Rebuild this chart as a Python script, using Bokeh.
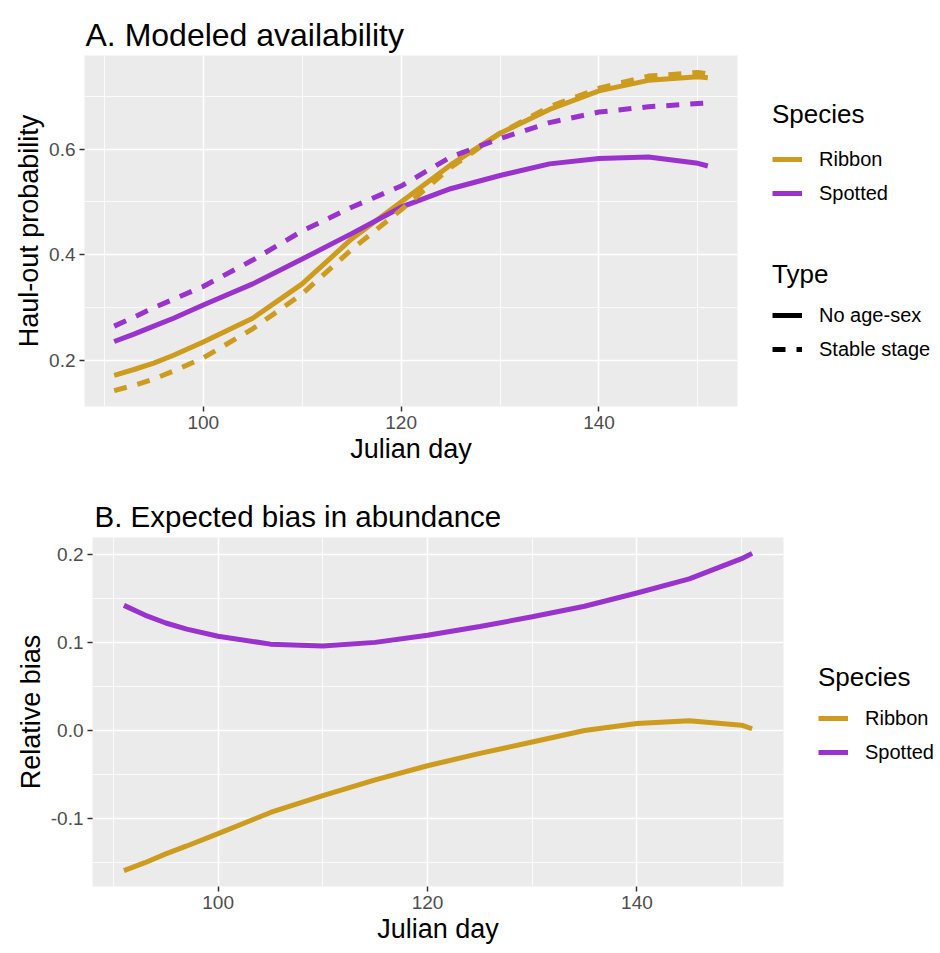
from bokeh.plotting import figure
from bokeh.layouts import row
from bokeh.models import Legend, LegendItem, FixedTicker, PrintfTickFormatter, Range1d
from bokeh.embed import file_html
from bokeh.resources import INLINE

# ---------------- data ----------------
days = [91, 93, 95, 97, 100, 105, 110, 115, 120, 125, 130, 135, 140, 145, 150, 151]

# Panel A: haul-out probability
ribbon_no_age_sex = [0.172, 0.183, 0.195, 0.210, 0.235, 0.280, 0.345, 0.430, 0.500, 0.570, 0.630, 0.675, 0.710, 0.730, 0.737, 0.735]
ribbon_stable_stage = [0.143, 0.153, 0.165, 0.180, 0.205, 0.260, 0.326, 0.410, 0.485, 0.565, 0.630, 0.680, 0.715, 0.738, 0.745, 0.742]
spotted_no_age_sex = [0.236, 0.250, 0.265, 0.280, 0.305, 0.345, 0.392, 0.440, 0.490, 0.525, 0.550, 0.572, 0.582, 0.585, 0.573, 0.568]
spotted_stable_stage = [0.265, 0.282, 0.300, 0.316, 0.340, 0.390, 0.445, 0.490, 0.530, 0.585, 0.620, 0.650, 0.670, 0.680, 0.686, 0.687]

# Panel B: relative bias
ribbon_bias = [-0.159, -0.150, -0.140, -0.131, -0.117, -0.093, -0.074, -0.056, -0.040, -0.026, -0.013, 0.000, 0.008, 0.011, 0.006, 0.002]
spotted_bias = [0.142, 0.131, 0.122, 0.115, 0.107, 0.098, 0.096, 0.100, 0.108, 0.118, 0.129, 0.141, 0.156, 0.172, 0.195, 0.201]

x_ticks = [100, 120, 140]
x_minor = [90, 110, 130, 150]
a_y_ticks = [0.2, 0.4, 0.6]
a_y_minor = [0.3, 0.5, 0.7]
b_y_ticks = [-0.1, 0.0, 0.1, 0.2]
b_y_minor = [-0.15, -0.05, 0.05, 0.15]

species = ["Ribbon", "Spotted"]
types = ["No age-sex", "Stable stage"]

# legend-key stand-in lines (kept outside the visible 0..1 range of the key panels)
key_x = [2, 3]
key_y = [2, 2]

# ---------------- style ----------------
GOLD = "#CD9B1D"
PURPLE = "#9A32CD"
FONT = "Liberation Sans"
LW = 5
DASH = "13 11"


def style(p, yt, ym, title_size, title_standoff, title_offset):
    p.background_fill_color = "#EBEBEB"
    p.border_fill_color = "white"
    p.outline_line_color = None
    p.title.text_font = FONT
    p.title.text_font_size = title_size
    p.title.text_font_style = "normal"
    p.title.text_color = "black"
    p.title.offset = title_offset
    p.title.standoff = title_standoff
    p.xaxis.ticker = FixedTicker(ticks=x_ticks, minor_ticks=x_minor)
    p.yaxis.ticker = FixedTicker(ticks=yt, minor_ticks=ym)
    p.xaxis.formatter = PrintfTickFormatter(format="%d")
    p.yaxis.formatter = PrintfTickFormatter(format="%.1f")
    for ax in p.axis:
        ax.axis_line_color = None
        ax.major_tick_line_color = "#333333"
        ax.major_tick_line_width = 1.5
        ax.major_tick_out = 5
        ax.major_tick_in = 0
        ax.minor_tick_line_color = None
        ax.major_label_text_color = "#4D4D4D"
        ax.major_label_text_font = FONT
        ax.major_label_text_font_size = "19px"
        ax.major_label_standoff = 4
        ax.axis_label_text_font = FONT
        ax.axis_label_text_font_size = "27px"
        ax.axis_label_text_font_style = "normal"
        ax.axis_label_text_color = "black"
        ax.axis_label_standoff = 2
    for g in p.grid:
        g.grid_line_color = "white"
        g.grid_line_width = 1.6
        g.minor_grid_line_color = "white"
        g.minor_grid_line_width = 0.8


def legend_fig(width, height, top, bottom):
    f = figure(width=width, height=height, output_backend="svg", toolbar_location=None,
               x_range=Range1d(0, 1), y_range=Range1d(0, 1),
               x_axis_type=None, y_axis_type=None,
               min_border_left=0, min_border_right=0, min_border_top=top, min_border_bottom=bottom)
    f.outline_line_color = None
    f.background_fill_color = "white"
    f.border_fill_color = "white"
    return f


def make_legend(items, title, loc, title_standoff=8):
    return Legend(
        items=items, title=title, location=loc, orientation="vertical",
        background_fill_alpha=0, border_line_color=None,
        glyph_width=30, glyph_height=34, label_height=34, label_standoff=17,
        padding=0, margin=0, spacing=0,
        title_text_font=FONT, title_text_font_size="26px", title_text_font_style="normal",
        title_text_color="black", title_standoff=title_standoff,
        label_text_font=FONT, label_text_font_size="20px", label_text_color="black",
    )


# ---------------- panel A ----------------
pa = figure(width=747, height=480, output_backend="svg", toolbar_location=None,
            x_range=Range1d(88, 154), y_range=Range1d(0.113, 0.777),
            title="A. Modeled availability",
            min_border_left=84, min_border_right=10, min_border_top=55, min_border_bottom=74,
            x_axis_label="Julian day", y_axis_label="Haul-out probability")
style(pa, a_y_ticks, a_y_minor, "32px", 5, 1)

pa.line(days, ribbon_no_age_sex, line_color=GOLD, line_width=LW)
pa.line(days, spotted_no_age_sex, line_color=PURPLE, line_width=LW)
pa.line(days, ribbon_stable_stage, line_color=GOLD, line_width=LW, line_dash=DASH)
pa.line(days, spotted_stable_stage, line_color=PURPLE, line_width=LW, line_dash=DASH)

la = legend_fig(193, 480, 55, 74)
ka_r = la.line(key_x, key_y, line_color=GOLD, line_width=LW)
ka_s = la.line(key_x, key_y, line_color=PURPLE, line_width=LW)
k_solid = la.line(key_x, key_y, line_color="black", line_width=LW)
k_dash = la.line(key_x, key_y, line_color="black", line_width=LW, line_dash=DASH)
la.add_layout(make_legend([LegendItem(label=species[0], renderers=[ka_r]),
                           LegendItem(label=species[1], renderers=[ka_s])], "Species", (25, 196), 12), "center")
la.add_layout(make_legend([LegendItem(label=types[0], renderers=[k_solid]),
                           LegendItem(label=types[1], renderers=[k_dash])], "Type", (25, 40)), "center")

# ---------------- panel B ----------------
pb = figure(width=793, height=473, output_backend="svg", toolbar_location=None,
            x_range=Range1d(88, 154), y_range=Range1d(-0.177, 0.219),
            title="B. Expected bias in abundance",
            min_border_left=92, min_border_right=10, min_border_top=57, min_border_bottom=67,
            x_axis_label="Julian day", y_axis_label="Relative bias")
style(pb, b_y_ticks, b_y_minor, "29.5px", 9, 2)

pb.line(days, ribbon_bias, line_color=GOLD, line_width=LW)
pb.line(days, spotted_bias, line_color=PURPLE, line_width=LW)

lb = legend_fig(147, 473, 57, 67)
kb_r = lb.line(key_x, key_y, line_color=GOLD, line_width=LW)
kb_s = lb.line(key_x, key_y, line_color=PURPLE, line_width=LW)
lb.add_layout(make_legend([LegendItem(label=species[0], renderers=[kb_r]),
                           LegendItem(label=species[1], renderers=[kb_s])], "Species", (25, 117)), "center")

open("out.html", "w").write(file_html([row(pa, la), row(pb, lb)], INLINE))
